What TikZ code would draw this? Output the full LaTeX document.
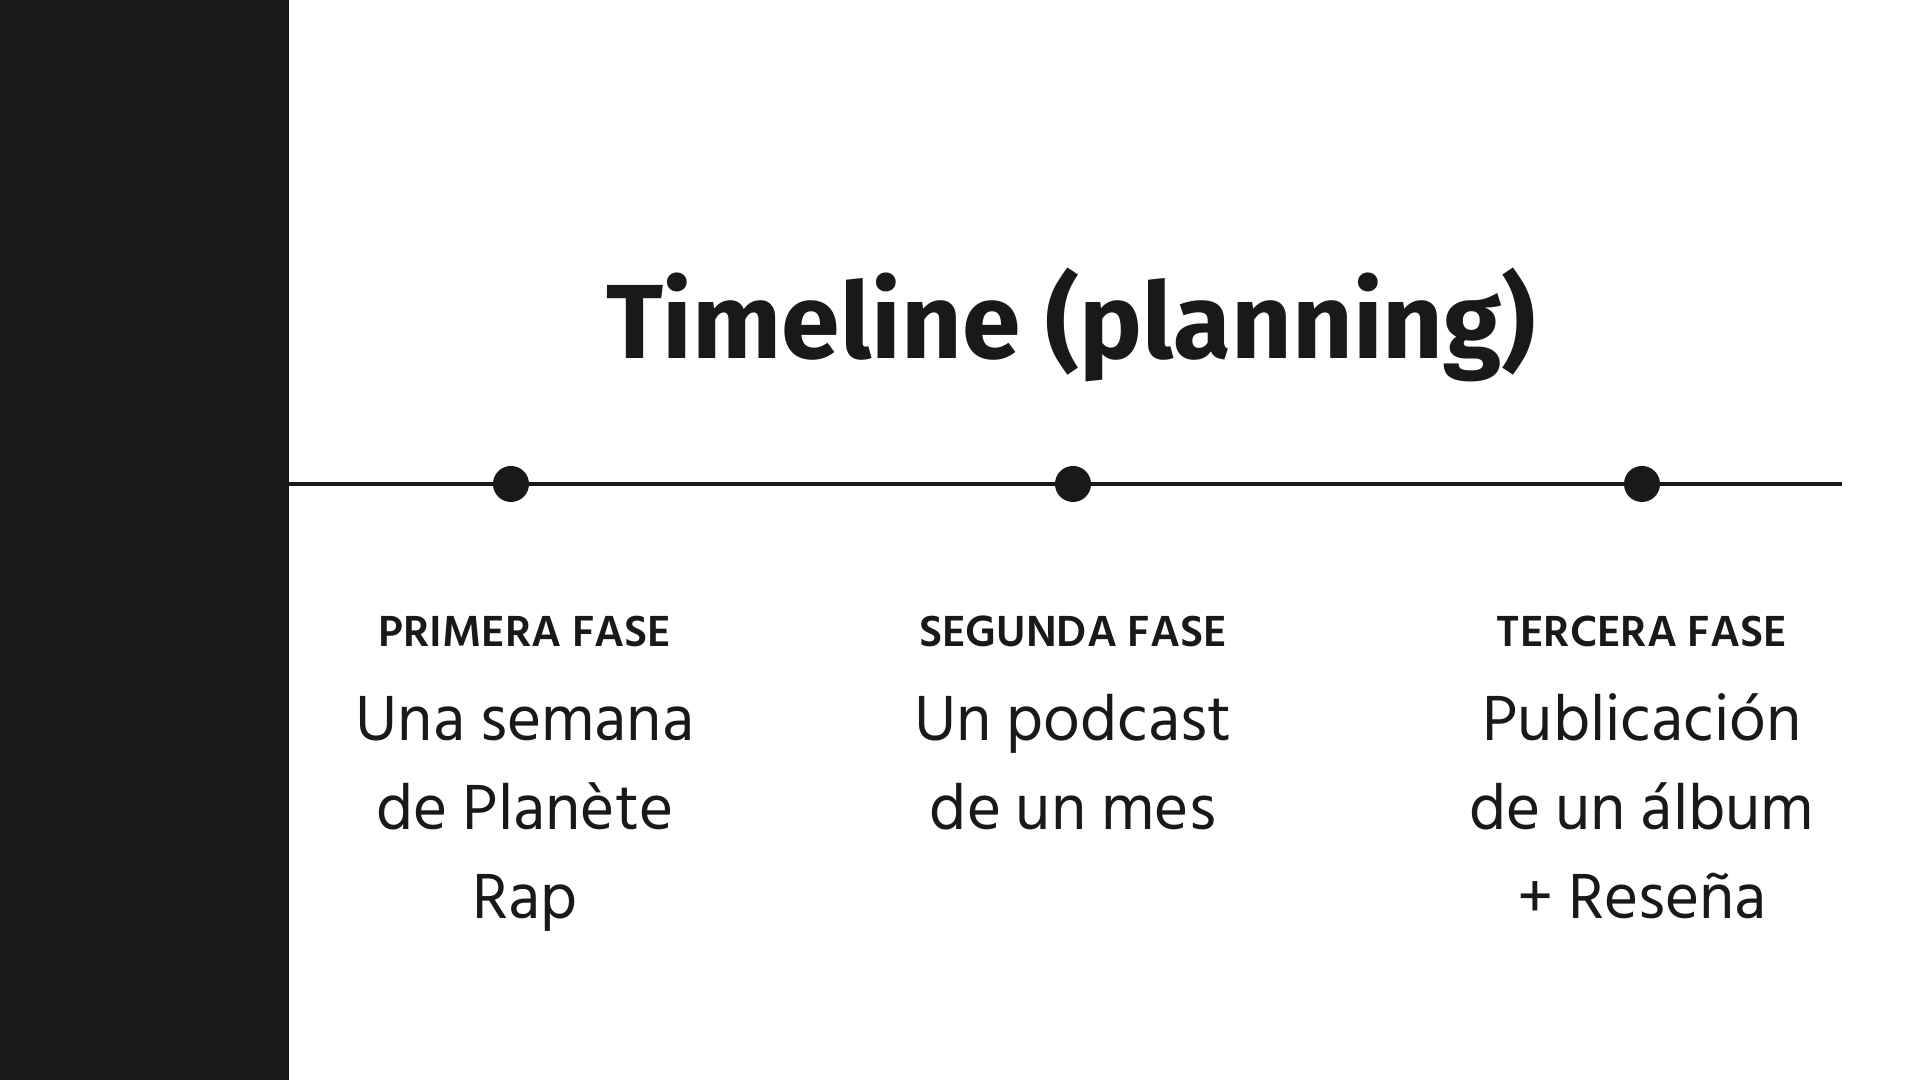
\documentclass[tikz,border=0pt]{standalone}
\usepackage{fontspec}
\setmainfont{Hind Siliguri}
\newfontfamily\titlefont{Fira Sans}
\definecolor{ink}{HTML}{191919}
\begin{document}
\begin{tikzpicture}[x=0.01cm,y=0.01cm,color=ink,
  phaselabel/.style={font=\bfseries\fontsize{12.7}{14}\selectfont,anchor=base},
  phasetext/.style={font=\fontsize{18.6}{25.3}\selectfont,align=center,anchor=north,inner sep=0pt},
  dot/.style={circle,fill=ink,inner sep=0pt,minimum size=0.36cm}]
  \useasboundingbox (0,0) rectangle (1920,1080);
  % Side bar
  \fill[ink] (0,0) rectangle (289,1080);

  % Title
  \node[anchor=base,font=\titlefont\bfseries\fontsize{30}{36}\selectfont] (title) at (1071,721) {Timeline (planning)};

  % Time axis
  \coordinate (axisL) at (289,596);
  \coordinate (axisR) at (1842,596);
  \draw[line width=1.15pt] (axisL) -- (axisR);

  % Phases
  \foreach \x/\tx/\n/\lbl/\txt in {511/525/p1/PRIMERA FASE/{Una semana\\de Planète\\Rap},
                                   1073/1073/p2/SEGUNDA FASE/{Un podcast\\de un mes},
                                   1642/1642/p3/TERCERA FASE/{Publicación\\de un álbum\\+ Reseña}} {
    \node[dot] (\n) at (\x,596) {};
    \node[phaselabel] (\n-label) at (\tx,433) {\lbl};
    \node[phasetext] (\n-text) at (\tx,402) {\strut\txt};
  }
\end{tikzpicture}
\end{document}
